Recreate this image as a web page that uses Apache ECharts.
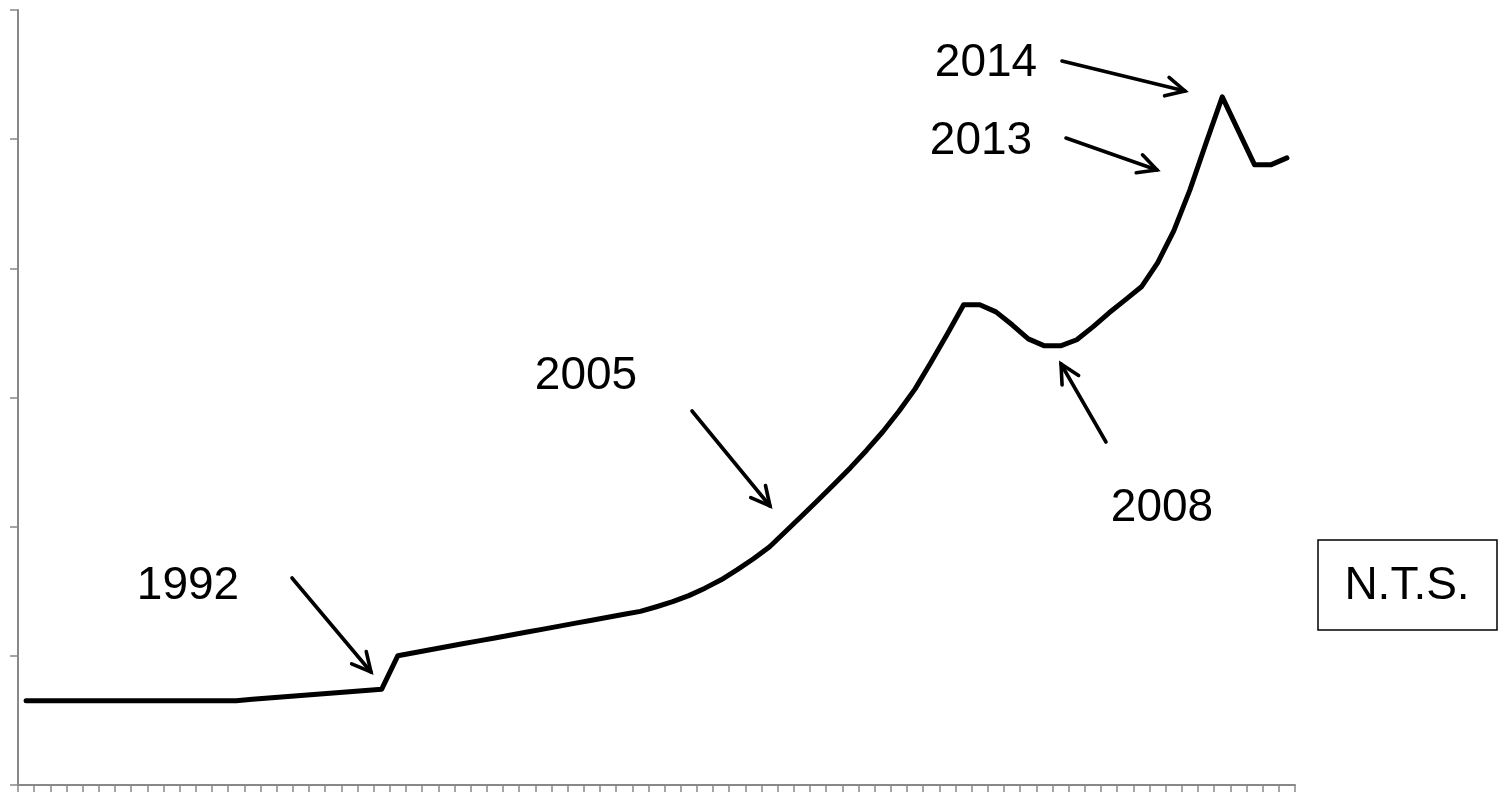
<!DOCTYPE html>
<html>
<head>
<meta charset="utf-8">
<script src="https://cdn.jsdelivr.net/npm/echarts@6/dist/echarts.min.js"></script>
<style>
html,body{margin:0;padding:0;background:#fff;}
#chart{width:1506px;height:792px;}
</style>
</head>
<body>
<div id="chart"></div>
<script>
// Categories: 79 equally spaced periods (unlabelled in the original)
const categories = Array.from({length: 79}, (_, i) => String(i + 1));

// Series values (arbitrary units, axis 0-60)
const values = [
  6.53, 6.53, 6.53, 6.53, 6.53, 6.53, 6.53, 6.53, 6.53, 6.53,
  6.53, 6.53, 6.53, 6.53, 6.63, 6.73, 6.83, 6.93, 7.03, 7.13,
  7.22, 7.32, 7.42, 10.01, 10.24, 10.47, 10.70, 10.93, 11.16, 11.38,
  11.61, 11.84, 12.07, 12.30, 12.53, 12.76, 12.99, 13.22, 13.44, 13.80,
  14.19, 14.66, 15.24, 15.89, 16.67, 17.52, 18.45, 19.65, 20.85, 22.06,
  23.30, 24.57, 25.92, 27.35, 28.93, 30.67, 32.77, 34.93, 37.18, 37.18,
  36.63, 35.63, 34.54, 34.00, 34.00, 34.47, 35.47, 36.56, 37.56, 38.57,
  40.42, 42.90, 46.07, 49.71, 53.27, 50.64, 48.01, 48.01, 48.55
];

// Annotation labels
const annotationLabels = ['1992', '2005', '2008', '2013', '2014'];
const noteLabel = 'N.T.S.';

const FONT = '46px "Liberation Sans", Arial, sans-serif';

function arrow(x1, y1, x2, y2) {
  const ang = Math.atan2(y2 - y1, x2 - x1);
  const L = 21, a = 27 * Math.PI / 180;
  const h1 = [x2 - L * Math.cos(ang - a), y2 - L * Math.sin(ang - a)];
  const h2 = [x2 - L * Math.cos(ang + a), y2 - L * Math.sin(ang + a)];
  const st = {stroke: '#000', lineWidth: 3.6, fill: null, lineCap: 'round', lineJoin: 'miter'};
  return [
    {type: 'polyline', shape: {points: [[x1, y1], [x2, y2]]}, style: st},
    {type: 'polyline', shape: {points: [h1, [x2, y2], h2]}, style: st}
  ];
}

function label(text, x, y) {
  return {type: 'text', x: x, y: y, style: {text: text, font: FONT, fill: '#000', textAlign: 'center', textVerticalAlign: 'middle'}};
}

const graphics = [].concat(
  [label(annotationLabels[0], 188, 586)], arrow(292, 578, 371, 672),
  [label(annotationLabels[1], 586, 376)], arrow(692, 411, 770, 506),
  [label(annotationLabels[2], 1162, 508)], arrow(1106, 442, 1061, 364),
  [label(annotationLabels[3], 981, 141)], arrow(1066, 138, 1157, 170),
  [label(annotationLabels[4], 986, 63)], arrow(1062, 61, 1185, 91),
  [
    {type: 'rect', shape: {x: 1318, y: 540, width: 179, height: 90}, style: {fill: '#fff', stroke: '#000', lineWidth: 1.5}},
    label(noteLabel, 1407, 586)
  ]
);

const chart = echarts.init(document.getElementById('chart'), null, {renderer: 'canvas'});
chart.setOption({
  animation: false,
  backgroundColor: '#fff',
  grid: {left: 18, right: 211, top: 10, bottom: 7, containLabel: false},
  xAxis: {
    type: 'category',
    data: categories,
    boundaryGap: true,
    axisLine: {lineStyle: {color: '#888888', width: 2}},
    axisTick: {show: true, interval: 0, length: 7, lineStyle: {color: '#888888', width: 1.5}},
    axisLabel: {show: false},
    splitLine: {show: false}
  },
  yAxis: {
    type: 'value',
    min: 0, max: 60, interval: 10,
    axisLine: {show: true, lineStyle: {color: '#888888', width: 2}},
    axisTick: {show: true, length: 8, lineStyle: {color: '#888888', width: 1.5}},
    axisLabel: {show: false},
    splitLine: {show: false}
  },
  series: [{
    type: 'line',
    data: values,
    symbol: 'none',
    lineStyle: {color: '#000', width: 5, join: 'round', cap: 'round'},
    smooth: false
  }],
  graphic: graphics
});
</script>
</body>
</html>
